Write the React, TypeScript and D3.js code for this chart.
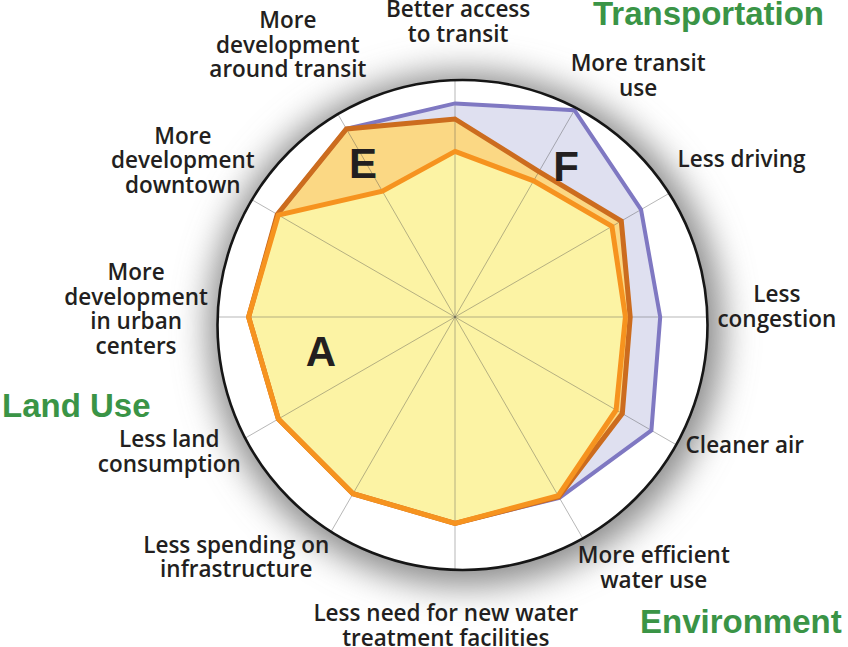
import React from "react";
import * as d3 from "d3";

// axes, clockwise from the top
const axes: string[][] = [
  ["Better access", "to transit"],
  ["More transit", "use"],
  ["Less driving"],
  ["Less", "congestion"],
  ["Cleaner air"],
  ["More efficient", "water use"],
  ["Less need for new water", "treatment facilities"],
  ["Less spending on", "infrastructure"],
  ["Less land", "consumption"],
  ["More", "development", "in urban", "centers"],
  ["More", "development", "downtown"],
  ["More", "development", "around transit"],
];

// scenario scores, 0-100
const scenarioA = [69, 65.5, 75.5, 71, 77.5, 86, 86, 85, 85, 86, 85, 60.5];
const scenarioE = [82.5, 70, 80, 73, 80.5, 86.5, 86, 85, 85, 86, 85.5, 90.5];
const scenarioF = [89, 99.5, 89.5, 85.5, 94.5, 87, 86, 85, 85, 86, 85.5, 90.5];

const groups = ["Transportation", "Land Use", "Environment"];

// label placement: [angle deg, distance from centre]
const labelPlace: [number, number][] = [
  [0.6, 295], [37.2, 303], [61.2, 327], [88.2, 322], [113.9, 317], [141.6, 320],
  [181.7, 309], [222.3, 325], [244.7, 316], [271.4, 319], [299.9, 314], [328.4, 319],
];

const W = 848;
const H = 647;
const cx = 455;
const cy = 317;
// outer ring sits slightly off the spoke centre
const ox = 462.5;
const oy = 325;
const R = 245;

const r = d3.scaleLinear().domain([0, 100]).range([0, 240]);
const angle = d3
  .scaleLinear()
  .domain([0, axes.length])
  .range([0, 2 * Math.PI]);

const radar = d3
  .lineRadial<number>()
  .angle((_, i) => angle(i))
  .radius((d) => r(d))
  .curve(d3.curveLinearClosed);

const series = [
  { name: "F", values: scenarioF, fill: "#dfe0f0", stroke: "#7f78c2", width: 4 },
  { name: "E", values: scenarioE, fill: "#fbd884", stroke: "#cc6c1e", width: 5 },
  { name: "A", values: scenarioA, fill: "#fcf3a4", stroke: "#f6931f", width: 5 },
];

function spokeEnd(i: number) {
  const a = angle(i);
  const dx = Math.sin(a);
  const dy = -Math.cos(a);
  const wx = cx - ox;
  const wy = cy - oy;
  const b = wx * dx + wy * dy;
  const t = -b + Math.sqrt(b * b - (wx * wx + wy * wy - R * R));
  return [cx + dx * t, cy + dy * t];
}

const labelFont = "'Open Sans', 'DejaVu Sans', sans-serif";
const lh = 24.5;
const fs = 22.5;

export default function App() {
  return (
    <svg width={W} height={H} style={{ position: "absolute", left: 0, top: 0 }}>
      <defs>
        <filter id="glow" x="-30%" y="-30%" width="160%" height="160%">
          <feGaussianBlur stdDeviation="17" />
        </filter>
      </defs>
      <rect width={W} height={H} fill="#fff" />
      <circle cx={ox + 3} cy={oy + 4} r={R + 12} fill="#8a8a8a" filter="url(#glow)" />
      <circle cx={ox} cy={oy} r={R} fill="#fff" />

      <g transform={`translate(${cx},${cy})`}>
        {series.map((s) => (
          <path key={s.name + "f"} d={radar(s.values) || ""} fill={s.fill} stroke="none" />
        ))}
      </g>

      {axes.map((_, i) => {
        const [x2, y2] = spokeEnd(i);
        return (
          <line key={"sp" + i} x1={cx} y1={cy} x2={x2} y2={y2} stroke="#4a4a4a" strokeOpacity={0.4} strokeWidth={1} />
        );
      })}

      <g transform={`translate(${cx},${cy})`}>
        {series.map((s) => (
          <path
            key={s.name + "s"}
            d={radar(s.values) || ""}
            fill="none"
            stroke={s.stroke}
            strokeWidth={s.width}
            strokeLinejoin="miter"
          />
        ))}
      </g>

      <circle cx={ox} cy={oy} r={R} fill="none" stroke="#161616" strokeWidth={2.6} />

      {axes.map((lines, i) => {
        const [deg, dist] = labelPlace[i];
        const a = (deg * Math.PI) / 180;
        const x = cx + Math.sin(a) * dist;
        const y = cy - Math.cos(a) * dist;
        const first = y - ((lines.length - 1) * lh) / 2 + fs * 0.34;
        return (
          <text key={"lb" + i} x={x} y={first} textAnchor="middle" fontFamily={labelFont} fontWeight={600} fontSize={fs} fill="#231f20">
            {lines.map((t, j) => (
              <tspan key={j} x={x} y={first + j * lh}>
                {t}
              </tspan>
            ))}
          </text>
        );
      })}

      <g fontFamily="'Liberation Sans', Arial, sans-serif" fontWeight="bold" fontSize={42} fill="#231f20" textAnchor="middle">
        <text x={363} y={178}>E</text>
        <text x={566} y={181}>F</text>
        <text x={321} y={366}>A</text>
      </g>

      <g fontFamily="'Liberation Sans', Arial, sans-serif" fontWeight="bold" fontSize={33} fill="#3a9446">
        <text x={593} y={25}>{groups[0]}</text>
        <text x={2} y={417}>{groups[1]}</text>
        <text x={640} y={633}>{groups[2]}</text>
      </g>
    </svg>
  );
}
